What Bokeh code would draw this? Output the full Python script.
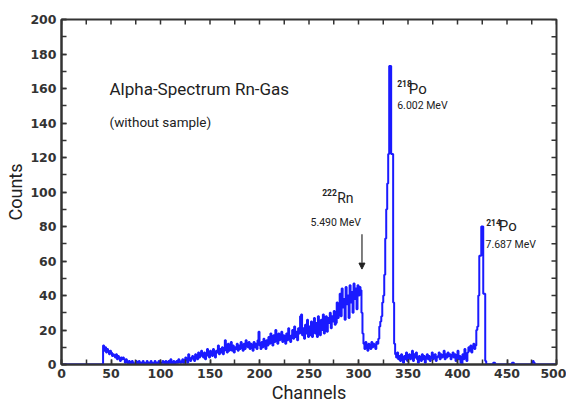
from bokeh.plotting import figure
from bokeh.models import Range1d, SingleIntervalTicker, Arrow, NormalHead
from bokeh.core.properties import value
from bokeh.embed import file_html
from bokeh.resources import INLINE

# Counts per channel (channel 0 .. 499)
counts = [
    0, 0, 0, 0, 0, 0, 0, 0, 0, 0,            # 0-9
    0, 0, 0, 0, 0, 0, 0, 0, 0, 0,            # 10-19
    0, 0, 0, 0, 0, 0, 0, 0, 0, 0,            # 20-29
    0, 0, 0, 0, 0, 0, 0, 0, 0, 0,            # 30-39
    0, 0, 11, 8, 10, 7, 9, 8, 6, 8,          # 40-49
    7, 5, 6, 5, 4, 6, 3, 5, 4, 2,            # 50-59
    4, 3, 4, 3, 1, 3, 2, 0, 2, 1,            # 60-69
    0, 2, 1, 0, 0, 2, 1, 0, 2, 0,            # 70-79
    1, 0, 2, 1, 0, 1, 2, 0, 1, 0,            # 80-89
    2, 1, 0, 1, 2, 0, 1, 0, 2, 1,            # 90-99
    0, 1, 2, 1, 0, 2, 1, 0, 2, 1,            # 100-109
    3, 0, 1, 2, 0, 1, 2, 1, 3, 2,            # 110-119
    1, 2, 3, 1, 2, 4, 3, 1, 6, 3,            # 120-129
    2, 4, 5, 3, 2, 6, 4, 3, 7, 4,            # 130-139
    5, 8, 5, 4, 7, 3, 6, 9, 5, 4,            # 140-149
    8, 6, 5, 9, 6, 4, 8, 7, 11, 6,           # 150-159
    9, 7, 10, 6, 8, 14, 9, 7, 12, 8,         # 160-169
    10, 13, 8, 11, 7, 10, 9, 12, 8, 11,      # 170-179
    9, 13, 10, 8, 12, 9, 14, 11, 10, 13,     # 180-189
    9, 12, 11, 8, 13, 10, 12, 9, 14, 19,     # 190-199
    11, 9, 13, 10, 15, 12, 9, 14, 11, 16,    # 200-209
    12, 18, 14, 11, 17, 13, 20, 15, 12, 18,  # 210-219
    14, 16, 19, 13, 17, 15, 12, 18, 14, 21,  # 220-229
    16, 13, 17, 20, 15, 22, 16, 19, 14, 21,  # 230-239
    18, 28, 29, 17, 21, 15, 23, 18, 26, 16,  # 240-249
    22, 17, 25, 16, 23, 27, 18, 24, 16, 28,  # 250-259
    21, 17, 26, 20, 29, 18, 25, 28, 19, 27,  # 260-269
    24, 30, 21, 28, 25, 31, 23, 24, 36, 27,  # 270-279
    33, 41, 28, 44, 33, 38, 26, 45, 35, 40,  # 280-289
    27, 46, 36, 42, 30, 47, 38, 44, 32, 46,  # 290-299
    40, 45, 43, 30, 18, 12, 9, 13, 10, 8,    # 300-309
    12, 11, 9, 13, 10, 12, 11, 9, 13, 12,    # 310-319
    15, 22, 25, 28, 36, 40, 52, 73, 90, 105, # 320-329
    122, 173, 173, 122, 122, 36, 12, 6, 4, 7, # 330-339
    3, 5, 2, 6, 4, 1, 5, 3, 7, 2,            # 340-349
    4, 6, 3, 5, 8, 2, 6, 4, 7, 3,            # 350-359
    1, 5, 4, 2, 6, 3, 5, 1, 4, 6,            # 360-369
    3, 5, 2, 4, 7, 3, 5, 6, 2, 4,            # 370-379
    5, 7, 3, 6, 4, 5, 8, 3, 6, 4,            # 380-389
    7, 5, 6, 3, 5, 7, 4, 6, 2, 5,            # 390-399
    8, 3, 5, 1, 0, 6, 3, 9, 4, 2,            # 400-409
    7, 10, 8, 11, 7, 10, 12, 9, 11, 20,      # 410-419
    22, 40, 63, 63, 80, 80, 41, 41, 2, 0,    # 420-429
    0, 0, 0, 0, 0, 0, 1, 1, 0, 0,            # 430-439
    0, 0, 0, 0, 0, 0, 0, 0, 0, 0,            # 440-449
    0, 0, 0, 0, 0, 1, 1, 0, 0, 0,            # 450-459
    0, 0, 0, 0, 0, 0, 0, 0, 0, 0,            # 460-469
    0, 0, 0, 0, 0, 1, 2, 1, 0, 0,            # 470-479
    0, 0, 0, 0, 0, 0, 0, 0, 0, 0,            # 480-489
    0, 0, 0, 0, 0, 0, 0, 0, 0, 0,            # 490-499
]
channels = list(range(len(counts)))

x_tick_marks = list(range(0, 501, 25))
y_tick_marks = list(range(0, 201, 10))

title_text = "Alpha-Spectrum Rn-Gas"
subtitle_text = "(without sample)"
isotope_mass = ["222", "218", "214"]
isotope_name = ["Rn", "Po", "Po"]
isotope_energy = ["5.490  MeV", "6.002  MeV", "7.687  MeV"]

TXT = "#222222"
AX = "#333333"
FONT = "Roboto"
X0, X1, Y0, Y1 = 0, 500, 0, 200

p = figure(width=566, height=405, x_range=Range1d(X0, X1), y_range=Range1d(Y0, Y1),
           output_backend="svg", toolbar_location=None,
           min_border_left=61, min_border_right=10, min_border_top=19, min_border_bottom=39,
           x_axis_label="Channels", y_axis_label="Counts")
p.grid.visible = False
p.outline_line_color = AX
p.outline_line_width = 2
p.background_fill_color = "white"
p.border_fill_color = "white"


def style_axis(ax, interval):
    ax.ticker = SingleIntervalTicker(interval=interval, num_minor_ticks=2)
    ax.axis_line_color = AX
    ax.axis_line_width = 2
    ax.major_tick_line_color = AX
    ax.major_tick_line_width = 1.5
    ax.minor_tick_line_color = AX
    ax.minor_tick_line_width = 1.5
    ax.major_tick_in = 5
    ax.major_tick_out = 0
    ax.minor_tick_in = 5
    ax.minor_tick_out = 0
    ax.major_label_text_font = "DejaVu Sans"
    ax.major_label_text_font_style = "bold"
    ax.major_label_text_font_size = "12.5px"
    ax.major_label_text_color = "#333333"
    ax.major_label_standoff = 4
    ax.axis_label_text_font = FONT
    ax.axis_label_text_font_style = "normal"
    ax.axis_label_text_font_size = "18px"
    ax.axis_label_text_color = TXT
    ax.axis_label_standoff = 1


style_axis(p.xaxis[0], 50)
style_axis(p.yaxis[0], 20)
p.yaxis[0].major_label_standoff = 5

# inward tick marks on the top and right edges of the frame (5 px long)
tick_dx = 5 / 0.99
tick_dy = 5 / 1.735
p.segment(x0=x_tick_marks, x1=x_tick_marks, y0=[Y1] * len(x_tick_marks),
          y1=[Y1 - tick_dy] * len(x_tick_marks), line_color=AX, line_width=1.5)
p.segment(x0=[X1] * len(y_tick_marks), x1=[X1 - tick_dx] * len(y_tick_marks),
          y0=y_tick_marks, y1=y_tick_marks, line_color=AX, line_width=1.5)

# spectrum
p.step(x=channels, y=counts, mode="after", line_color="#1a1aff", line_width=2)


def txt(x, y, s, size, style="normal"):
    p.text(x=[x], y=[y], text=[s], text_font=value(FONT), text_font_size=size,
           text_font_style=style, text_color=TXT, text_baseline="alphabetic",
           text_align="left")


txt(48.5, 159.6, title_text, "17px")
txt(48.5, 140.6, subtitle_text, "13.5px")

# 222Rn
txt(263.3, 99.7, isotope_mass[0], "8.5px", "bold")
txt(278.5, 96.8, isotope_name[0], "14px")
txt(251.5, 82.4, isotope_energy[0], "10.5px")
# 218Po
txt(339.1, 163.0, isotope_mass[1], "8.5px", "bold")
txt(350.8, 160.0, isotope_name[1], "15px")
txt(339.1, 150.4, isotope_energy[1], "10.5px")
# 214Po
txt(429.0, 82.4, isotope_mass[2], "8.5px", "bold")
txt(441.7, 80.3, isotope_name[2], "15px")
txt(428.3, 69.7, isotope_energy[2], "10.5px")

p.add_layout(Arrow(end=NormalHead(size=6, fill_color="#222222", line_color="#222222"),
                   x_start=303.5, y_start=75.5, x_end=303.5, y_end=55.3,
                   line_color="#555555", line_width=1.5))

open("out.html", "w").write(file_html(p, INLINE))
